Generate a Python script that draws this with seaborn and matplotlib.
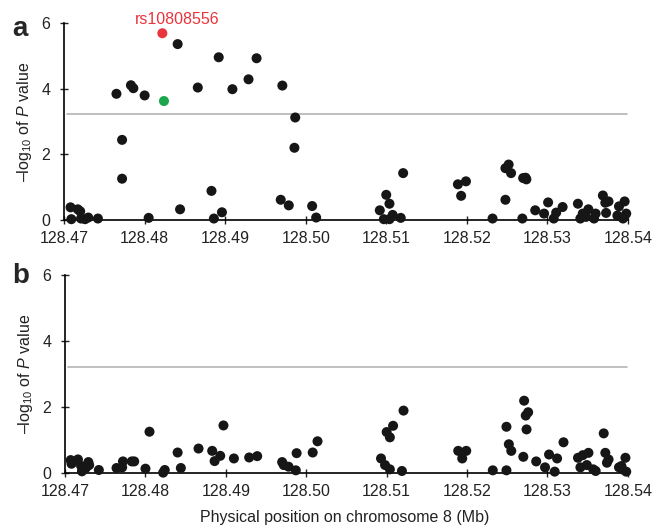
import seaborn as sns
import matplotlib.pyplot as plt
import pandas as pd

# panel a: association results (position in Mb, -log10 P)
pos_a = [128.4841, 128.4892, 128.4939, 128.4929, 128.4971, 128.4866, 128.4909, 128.4765,
         128.4783, 128.4786, 128.4800, 128.4987, 128.4986, 128.4772, 128.4772, 128.4883,
         128.4969, 128.4979, 128.5008, 128.5013, 128.4844, 128.4896, 128.4886, 128.4805,
         128.4708, 128.4717, 128.4720, 128.4709, 128.4721, 128.4726, 128.4730, 128.4742,
         128.5121, 128.5100, 128.5104, 128.5092, 128.5108, 128.5097, 128.5104, 128.5118,
         128.5189, 128.5199, 128.5193, 128.5232, 128.5252, 128.5248, 128.5255, 128.5248,
         128.5270, 128.5273, 128.5274, 128.5269, 128.5285, 128.5296, 128.5301, 128.5311,
         128.5308, 128.5319, 128.5338, 128.5341, 128.5344, 128.5351, 128.5348, 128.5358,
         128.5360, 128.5369, 128.5372, 128.5376, 128.5373, 128.5396, 128.5389, 128.5398,
         128.5387, 128.5394]
logp_a = [5.35, 4.95, 4.92, 4.28, 4.09, 4.03, 3.98, 3.84,
          4.10, 4.01, 3.79, 3.12, 2.20, 2.44, 1.26, 0.89,
          0.62, 0.45, 0.43, 0.08, 0.33, 0.24, 0.05, 0.07,
          0.39, 0.33, 0.27, 0.03, 0.05, 0.03, 0.08, 0.05,
          1.43, 0.77, 0.50, 0.30, 0.16, 0.03, 0.03, 0.07,
          1.09, 1.18, 0.74, 0.05, 1.69, 1.58, 1.43, 0.62,
          1.28, 1.29, 1.24, 0.05, 0.30, 0.20, 0.54, 0.23,
          0.05, 0.40, 0.50, 0.05, 0.20, 0.33, 0.10, 0.05,
          0.20, 0.75, 0.53, 0.57, 0.22, 0.57, 0.42, 0.20,
          0.14, 0.05]

# highlighted SNPs in panel a
snp_label = "rs10808556"
snp_red = (128.4822, 5.68)
snp_green = (128.4824, 3.62)

# panel b: conditional analysis
pos_b = [128.4707, 128.4710, 128.4708, 128.4716, 128.4720, 128.4721, 128.4725, 128.4729,
         128.4730, 128.4727, 128.4742, 128.4764, 128.4771, 128.4772, 128.4783, 128.4786,
         128.4800, 128.4805, 128.4822, 128.4824, 128.4840, 128.4844, 128.4866, 128.4883,
         128.4886, 128.4893, 128.4897, 128.4910, 128.4929, 128.4939, 128.4970, 128.4972,
         128.4978, 128.4987, 128.4988, 128.5008, 128.5014,
         128.5121, 128.5108, 128.5100, 128.5104, 128.5093, 128.5098, 128.5104, 128.5119,
         128.5189, 128.5199, 128.5194, 128.5232, 128.5249, 128.5249, 128.5252, 128.5255,
         128.5271, 128.5276, 128.5273, 128.5274, 128.5270, 128.5286, 128.5297, 128.5302,
         128.5312, 128.5309, 128.5320, 128.5338, 128.5344, 128.5351, 128.5341, 128.5349,
         128.5357, 128.5360, 128.5370, 128.5372, 128.5376, 128.5374, 128.5397, 128.5389,
         128.5393, 128.5398, 128.5392]
logp_b = [0.40, 0.34, 0.29, 0.42, 0.22, 0.06, 0.14, 0.34,
          0.25, 0.20, 0.10, 0.16, 0.18, 0.36, 0.36, 0.36,
          0.14, 1.26, 0.02, 0.10, 0.63, 0.16, 0.75, 0.68,
          0.37, 0.53, 1.45, 0.45, 0.48, 0.52, 0.34, 0.25,
          0.20, 0.09, 0.61, 0.63, 0.97,
          1.90, 1.44, 1.25, 1.09, 0.45, 0.25, 0.12, 0.07,
          0.68, 0.68, 0.45, 0.09, 0.09, 1.41, 0.88, 0.68,
          2.20, 1.85, 1.75, 1.33, 0.50, 0.36, 0.18, 0.57,
          0.45, 0.05, 0.94, 0.47, 0.55, 0.62, 0.18, 0.25,
          0.12, 0.07, 1.21, 0.62, 0.42, 0.32, 0.47, 0.18,
          0.12, 0.05, 0.22]

threshold = 3.22
xticks = [128.47, 128.48, 128.49, 128.50, 128.51, 128.52, 128.53, 128.54]

sns.set_style('ticks')
plt.rcParams['font.family'] = ['Liberation Sans', 'DejaVu Sans']
plt.rcParams['mathtext.fontset'] = 'custom'
plt.rcParams['mathtext.rm'] = 'Liberation Sans'
plt.rcParams['mathtext.it'] = 'Liberation Sans:italic'

fig = plt.figure(figsize=(6.54, 5.28), dpi=100)
ax_a = fig.add_axes([0.098, 0.583, 0.862, 0.374])
ax_b = fig.add_axes([0.0995, 0.1036, 0.8605, 0.375])

df_a = pd.DataFrame({'pos': pos_a, 'logp': logp_a})
df_b = pd.DataFrame({'pos': pos_b, 'logp': logp_b})

for ax, df in [(ax_a, df_a), (ax_b, df_b)]:
    ax.axhline(threshold, xmin=0.005, xmax=0.998, color='#b4b4b4', lw=1.2, zorder=1)
    sns.scatterplot(data=df, x='pos', y='logp', ax=ax, color='#161616',
                    s=52, edgecolor='none', clip_on=False, zorder=3)
    ax.set_xlim(128.47, 128.54)
    ax.set_ylim(0, 6)
    ax.set_xticks(xticks)
    ax.set_xticklabels([f'{t:.2f}' for t in xticks])
    ax.set_yticks([0, 2, 4, 6])
    ax.tick_params(labelsize=11.5, length=6, width=1, colors='#222222',
                   direction='inout', pad=5)
    ax.tick_params(axis='y', pad=7)
    ax.set_xlabel('')
    ax.set_ylabel('–log$_{10}$ of $P$ value', fontsize=11.5, labelpad=5, color='#222222')
    sns.despine(ax=ax)
    for sp in ['left', 'bottom']:
        ax.spines[sp].set_linewidth(1.2)
        ax.spines[sp].set_color('black')

sns.scatterplot(x=[snp_red[0]], y=[snp_red[1]], ax=ax_a, color='#e8353b',
                s=52, edgecolor='none', zorder=4)
sns.scatterplot(x=[snp_green[0]], y=[snp_green[1]], ax=ax_a, color='#1aa64a',
                s=52, edgecolor='none', zorder=4)
ax_a.text(128.4840, 6.1, snp_label, color='#e8353b', fontsize=11.5,
          ha='center', va='center')

fig.text(0.018, 0.945, 'a', fontsize=20, fontweight='bold', va='center')
fig.text(0.018, 0.478, 'b', fontsize=20, fontweight='bold', va='center')
fig.text(0.527, 0.02, 'Physical position on chromosome 8 (Mb)', fontsize=11.5,
         ha='center', va='center', color='#222222')

fig.savefig('out.png', dpi=100)
